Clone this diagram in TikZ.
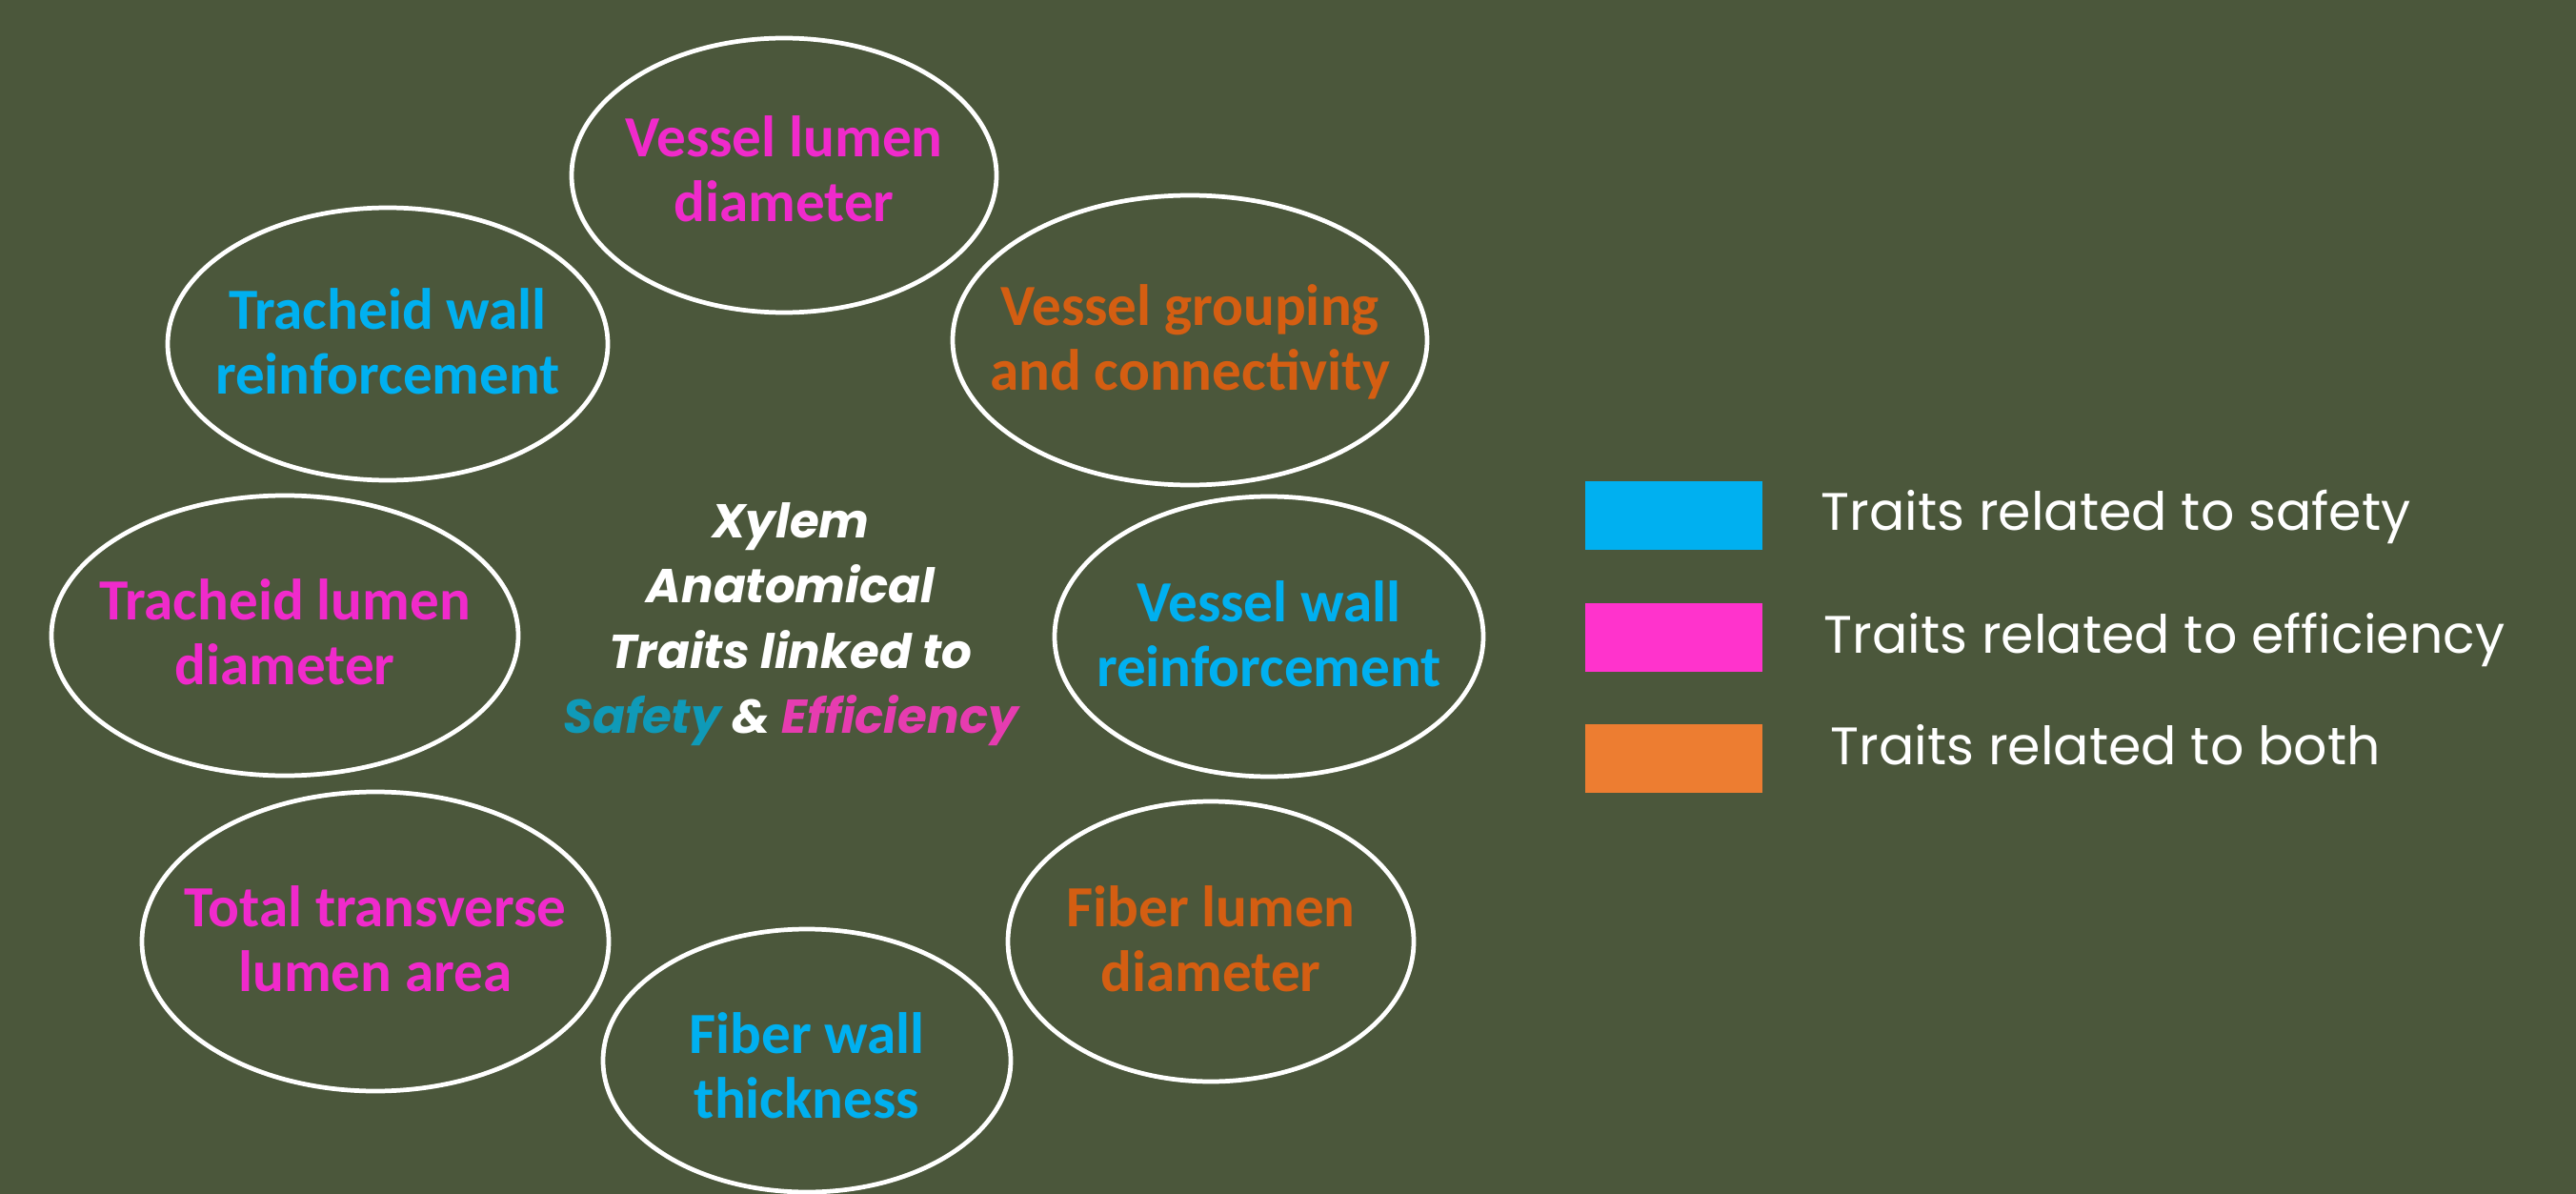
\documentclass[tikz,border=0pt]{standalone}
\usepackage{fontspec}
\usepackage{xcolor}
\usetikzlibrary{shapes.geometric}
\setmainfont{Carlito}
\newfontfamily\poppins{Poppins}
\definecolor{bgolive}{HTML}{4B573B}
\definecolor{safetyblue}{HTML}{00B0F0}
\definecolor{efficpink}{HTML}{F02ACB}
\definecolor{bothorange}{HTML}{D45E12}
\definecolor{keypink}{HTML}{FF33CC}
\definecolor{keyorange}{HTML}{ED7D31}
\definecolor{titleteal}{HTML}{0F9AB8}
\definecolor{titlepink}{HTML}{E63CB0}

\begin{document}
\begin{tikzpicture}[
  ring/.style={draw=white, line width=1.35pt, ellipse, inner sep=0pt},
  trait/.style={align=center, inner sep=0pt, text=#1, font=\bfseries\fontsize{17.4}{19.3}\selectfont},
  keybox/.style={fill=#1, minimum width=1.86cm, minimum height=0.72cm, inner sep=0pt},
  keytext/.style={text=white, anchor=base west, inner sep=0pt, font=\poppins\fontsize{15.75}{19}\selectfont}]
  \fill[bgolive] (0,0) rectangle (27.04,-12.53);
  \clip (0,0) rectangle (27.04,-12.53);

  % trait ellipses
  \node[ring, minimum width=4.46cm, minimum height=2.88cm] (vlumen) at (8.23,-1.84) {};
  \node[ring, minimum width=4.98cm, minimum height=3.04cm] (vgroup) at (12.49,-3.57) {};
  \node[ring, minimum width=4.62cm, minimum height=2.86cm] (twall) at (4.07,-3.61) {};
  \node[ring, minimum width=4.90cm, minimum height=2.94cm] (tlumen) at (2.99,-6.67) {};
  \node[ring, minimum width=4.50cm, minimum height=2.94cm] (vwall) at (13.32,-6.68) {};
  \node[ring, minimum width=4.90cm, minimum height=3.14cm] (tlarea) at (3.94,-9.88) {};
  \node[ring, minimum width=4.26cm, minimum height=2.94cm] (flumen) at (12.71,-9.88) {};
  \node[ring, minimum width=4.28cm, minimum height=2.76cm] (fwall) at (8.47,-11.13) {};

  % trait labels
  \node[trait=efficpink] (vlumen-t) at ([yshift=0.07cm]vlumen.center) {Vessel lumen\\diameter};
  \node[trait=bothorange] (vgroup-t) at ([yshift=-0.02cm]vgroup.center) {Vessel grouping\\and connectivity};
  \node[trait=safetyblue] (twall-t) at ([yshift=0.03cm]twall.center) {Tracheid wall\\reinforcement};
  \node[trait=efficpink] (tlumen-t) at ([yshift=0.04cm]tlumen.center) {Tracheid lumen\\diameter};
  \node[trait=safetyblue] (vwall-t) at ([yshift=0.03cm]vwall.center) {Vessel wall\\reinforcement};
  \node[trait=efficpink] (tlarea-t) at ([yshift=0.03cm]tlarea.center) {Total transverse\\lumen area};
  \node[trait=bothorange] (flumen-t) at ([yshift=0.03cm]flumen.center) {Fiber lumen\\diameter};
  \node[trait=safetyblue] (fwall-t) at ([yshift=-0.05cm]fwall.center) {Fiber wall\\thickness};

  % centre title
  \node[align=center, text=white, font=\poppins\bfseries\itshape\fontsize{14.2}{19.5}\selectfont] (title) at (8.30,-6.55)
    {Xylem\\Anatomical\\Traits linked to\\\textcolor{titleteal}{Safety} \& \textcolor{titlepink}{Efficiency}};

  % legend
  \node[keybox=safetyblue] (ksafety) at (17.57,-5.41) {};
  \node[keybox=keypink] (kefficiency) at (17.57,-6.69) {};
  \node[keybox=keyorange] (kboth) at (17.57,-7.96) {};
  \node[keytext] (ksafety-t) at (19.11,-5.56) {Traits related to safety};
  \node[keytext] (kefficiency-t) at (19.14,-6.85) {Traits related to efficiency};
  \node[keytext] (kboth-t) at (19.21,-8.02) {Traits related to both};
\end{tikzpicture}
\end{document}
